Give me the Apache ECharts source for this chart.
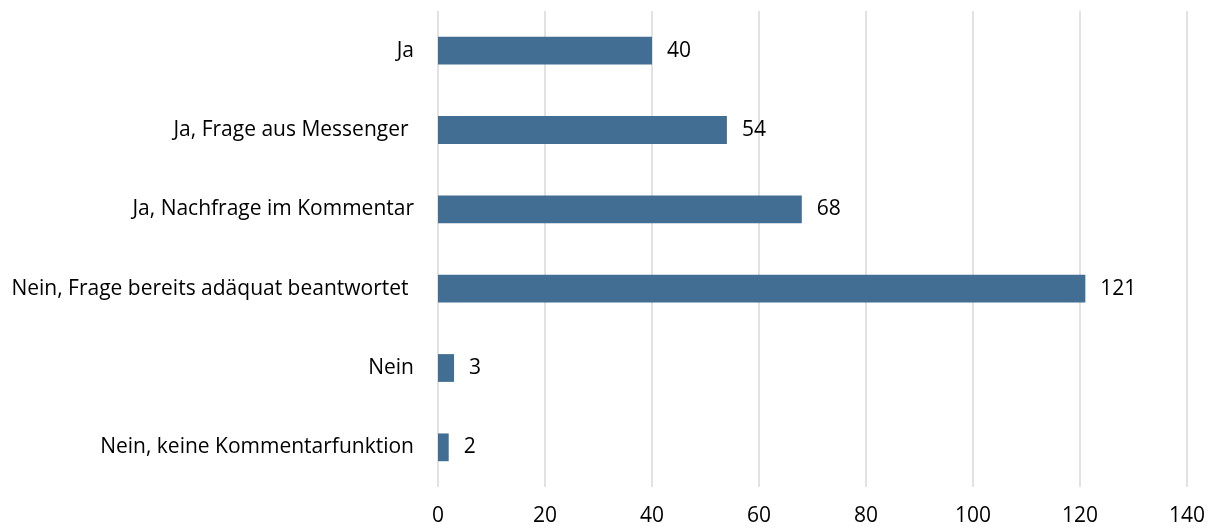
<!DOCTYPE html>
<html>
<head>
<meta charset="utf-8">
<script src="https://cdn.jsdelivr.net/npm/echarts@6/dist/echarts.min.js"></script>
<style>
html,body{margin:0;padding:0;background:#fff;}
#chart{width:1215px;height:529px;}
</style>
</head>
<body>
<div id="chart"></div>
<script>
const categories = [
  "Ja",
  "Ja, Frage aus Messenger ",
  "Ja, Nachfrage im Kommentar",
  "Nein, Frage bereits adäquat beantwortet ",
  "Nein",
  "Nein, keine Kommentarfunktion"
];
const values = [40, 54, 68, 121, 3, 2];
const xTicks = { min: 0, max: 140, interval: 20 };

const FONT = "Open Sans";
const chart = echarts.init(document.getElementById('chart'), null, {renderer: 'canvas'});
chart.setOption({
  animation: false,
  backgroundColor: '#ffffff',
  grid: { left: 438, right: 28, top: 11, bottom: 42, containLabel: false },
  xAxis: {
    type: 'value',
    min: xTicks.min, max: xTicks.max, interval: xTicks.interval,
    axisLine: { show: false },
    axisTick: { show: false },
    splitLine: { show: true, lineStyle: { color: '#d9d9d9', width: 1.5 } },
    axisLabel: { color: '#000', fontSize: 21, fontFamily: FONT, margin: 19 }
  },
  yAxis: {
    type: 'category',
    data: categories,
    inverse: true,
    axisLine: { show: false },
    axisTick: { show: false },
    axisLabel: { color: '#000', fontSize: 21, fontFamily: FONT, margin: 24 }
  },
  series: [{
    type: 'bar',
    data: values,
    barWidth: '35%',
    itemStyle: { color: '#416E92' },
    label: {
      show: true, position: 'right', distance: 15,
      color: '#000', fontSize: 21, fontFamily: FONT
    }
  }]
});
</script>
</body>
</html>
